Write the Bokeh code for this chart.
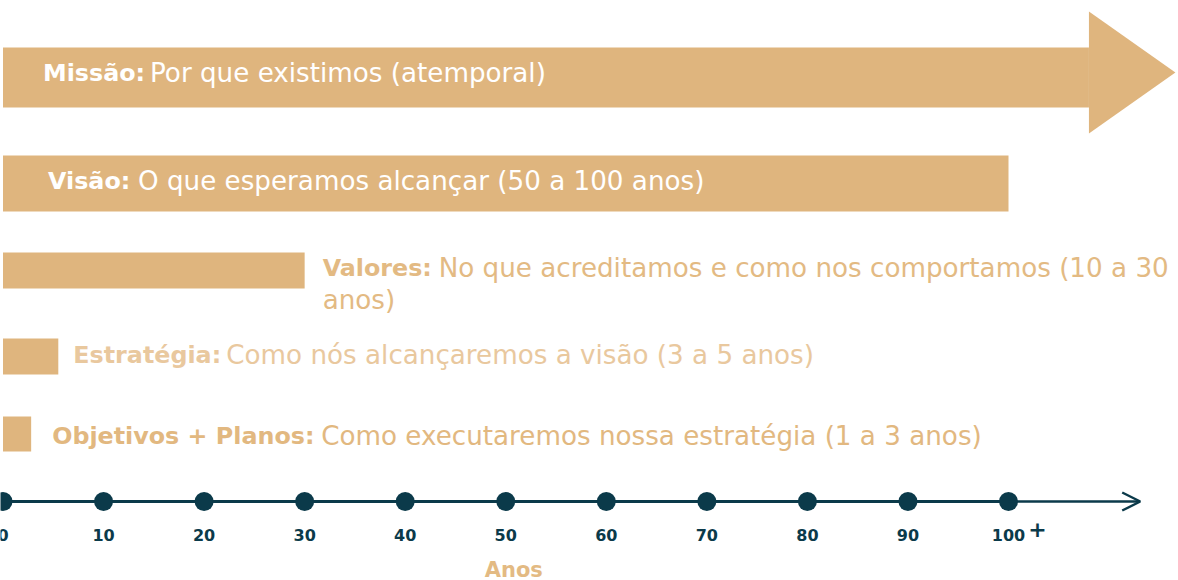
from bokeh.plotting import figure
from bokeh.models import Range1d, ColumnDataSource, Arrow, OpenHead
from bokeh.core.properties import value
from bokeh.embed import file_html
from bokeh.resources import INLINE

# ---------------- data ----------------
bold_labels = ["Missão:", "Visão:", "Valores:", "Estratégia:", "Objetivos + Planos:"]
rest_labels = ["Por que existimos (atemporal)",
               "O que esperamos alcançar (50 a 100 anos)",
               "No que acreditamos e como nos comportamos (10 a 30",
               "Como nós alcançaremos a visão (3 a 5 anos)",
               "Como executaremos nossa estratégia (1 a 3 anos)"]
wrap_line = "anos)"
durations = [108, 100, 30, 5.5, 2.8]      # bar length in years (Missão = arrow shaft)
ticks = [0, 10, 20, 30, 40, 50, 60, 70, 80, 90, 100]
tick_labels = ["0", "10", "20", "30", "40", "50", "60", "70", "80", "90", "100"]
axis_end = 113.1
axis_title = "Anos"

# ---------------- layout / style ----------------
W, H = 1178, 580
PX = 10.055          # pixels per year
X0 = 2.5             # pixel of year 0
GOLD = "#DFB57E"
TEAL = "#0B3A4A"
FONT = "DejaVu Sans"
DY = -8              # baseline correction for the svg text renderer

bar_top = [47, 155, 252, 338, 416]
bar_bot = [107, 211, 288, 374, 451]
head_top, head_bot, head_mid, head_len = 11, 133, 72, 8.6
text_base = [b + DY for b in [80, 188, 275, 362, 443]]
anchor_from_end = [False, False, True, True, True]
bold_off = [40, 45, 18, 15, 21]
gap = [107, 90, 116, 153, 269]
rest_off = [b + g for b, g in zip(bold_off, gap)]
text_col = ["#FFFFFF", "#FFFFFF", "#E3BA83", "#E9C89E", "#E2B880"]

p = figure(width=W, height=H, output_backend="svg", toolbar_location=None,
           x_range=Range1d(-X0 / PX, (W - X0) / PX), y_range=Range1d(H, 0),
           x_axis_type=None, y_axis_type=None, min_border=0,
           outline_line_color=None, background_fill_color="white",
           border_fill_color="white")
p.grid.visible = False

# bars
p.quad(left=[0] * len(durations), right=durations, top=bar_top, bottom=bar_bot,
       fill_color=GOLD, line_color=None)
# Missão arrow head
m_end = durations[0]
p.patch(x=[m_end, m_end + head_len, m_end], y=[head_top, head_mid, head_bot],
        fill_color=GOLD, line_color=None)

# labels
anchor_x = [d if a else 0 for d, a in zip(durations, anchor_from_end)]
src = ColumnDataSource(dict(x=anchor_x, y=text_base, bold=bold_labels, rest=rest_labels,
                            bo=bold_off, ro=rest_off, c=text_col))
p.text(x="x", y="y", text="bold", x_offset="bo", source=src, text_color="c",
       text_font=value(FONT), text_font_style="bold", text_font_size="23.8px",
       text_baseline="alphabetic", text_align="left")
p.text(x="x", y="y", text="rest", x_offset="ro", source=src, text_color="c",
       text_font=value(FONT), text_font_size="26.2px",
       text_baseline="alphabetic", text_align="left")
p.text(x=[durations[2]], y=[307 + DY], text=[wrap_line], x_offset=bold_off[2],
       text_color=text_col[2], text_font=value(FONT), text_font_size="26.2px",
       text_baseline="alphabetic", text_align="left")

# timeline
AY = 501
p.line(x=[0, ticks[-1]], y=[AY, AY], line_color=TEAL, line_width=3)
p.add_layout(Arrow(end=OpenHead(size=18, line_color=TEAL, line_width=2.5),
                   x_start=ticks[-1], y_start=AY, x_end=axis_end, y_end=AY,
                   line_color=TEAL, line_width=2.5))
p.scatter(x=ticks, y=[AY] * len(ticks), size=19, fill_color=TEAL, line_color=None)
p.text(x=ticks, y=[542 + DY] * len(ticks), text=tick_labels, text_color=TEAL,
       text_font=value(FONT), text_font_style="bold", text_font_size="16px",
       text_baseline="alphabetic", text_align="center")
p.text(x=[ticks[-1]], y=[536 + DY], text=["+"], x_offset=29, text_color=TEAL,
       text_font=value(FONT), text_font_style="bold", text_font_size="22px",
       text_baseline="alphabetic", text_align="center")
p.text(x=[ticks[5]], y=[577 + DY], text=[axis_title], x_offset=8, text_color="#E3BA83",
       text_font=value(FONT), text_font_style="bold", text_font_size="21px",
       text_baseline="alphabetic", text_align="center")

open("out.html", "w").write(file_html(p, INLINE))
